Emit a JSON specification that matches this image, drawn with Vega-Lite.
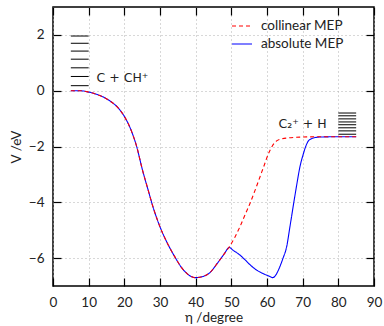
{
  "$schema": "https://vega.github.io/schema/vega-lite/v6.json",
  "width": 321,
  "height": 279,
  "autosize": "none",
  "padding": {"left": 53, "top": 7, "right": 10, "bottom": 40},
  "background": "white",
  "config": {
    "font": "Lato",
    "view": {"stroke": "black", "strokeWidth": 1.5},
    "axis": {
      "domain": false,
      "tickColor": "black",
      "tickWidth": 1.2,
      "tickSize": -8,
      "labelFont": "Lato",
      "labelFontSize": 13.5,
      "labelColor": "#222",
      "titleFont": "Lato",
      "titleFontSize": 13.5,
      "titleFontWeight": "normal",
      "titleColor": "#222",
      "gridColor": "#b0b0b0",
      "gridDash": [1, 3],
      "gridWidth": 1
    },
    "legend": {
      "labelFont": "Lato",
      "labelFontSize": 13.5,
      "labelColor": "#222"
    }
  },
  "datasets": {
    "curves": [
      {"eta": 5, "V": 0, "path": "absolute MEP"},
      {"eta": 7.5, "V": 0, "path": "absolute MEP"},
      {"eta": 10, "V": -0.05, "path": "absolute MEP"},
      {"eta": 12, "V": -0.12, "path": "absolute MEP"},
      {"eta": 14, "V": -0.22, "path": "absolute MEP"},
      {"eta": 16, "V": -0.37, "path": "absolute MEP"},
      {"eta": 18, "V": -0.58, "path": "absolute MEP"},
      {"eta": 20, "V": -0.92, "path": "absolute MEP"},
      {"eta": 22, "V": -1.45, "path": "absolute MEP"},
      {"eta": 23.5, "V": -2.02, "path": "absolute MEP"},
      {"eta": 25, "V": -2.8, "path": "absolute MEP"},
      {"eta": 26.7, "V": -3.57, "path": "absolute MEP"},
      {"eta": 28, "V": -4.15, "path": "absolute MEP"},
      {"eta": 30, "V": -4.88, "path": "absolute MEP"},
      {"eta": 32, "V": -5.45, "path": "absolute MEP"},
      {"eta": 34, "V": -5.92, "path": "absolute MEP"},
      {"eta": 36, "V": -6.33, "path": "absolute MEP"},
      {"eta": 38, "V": -6.6, "path": "absolute MEP"},
      {"eta": 40, "V": -6.7, "path": "absolute MEP"},
      {"eta": 42, "V": -6.66, "path": "absolute MEP"},
      {"eta": 44, "V": -6.52, "path": "absolute MEP"},
      {"eta": 46, "V": -6.2, "path": "absolute MEP"},
      {"eta": 48, "V": -5.85, "path": "absolute MEP"},
      {"eta": 49.4, "V": -5.62, "path": "absolute MEP"},
      {"eta": 50.5, "V": -5.72, "path": "absolute MEP"},
      {"eta": 52.4, "V": -5.89, "path": "absolute MEP"},
      {"eta": 54, "V": -6.08, "path": "absolute MEP"},
      {"eta": 55.5, "V": -6.27, "path": "absolute MEP"},
      {"eta": 57.1, "V": -6.43, "path": "absolute MEP"},
      {"eta": 59, "V": -6.56, "path": "absolute MEP"},
      {"eta": 60.5, "V": -6.64, "path": "absolute MEP"},
      {"eta": 61.6, "V": -6.7, "path": "absolute MEP"},
      {"eta": 62.5, "V": -6.6, "path": "absolute MEP"},
      {"eta": 63.6, "V": -6.31, "path": "absolute MEP"},
      {"eta": 64.5, "V": -6.0, "path": "absolute MEP"},
      {"eta": 65.5, "V": -5.6, "path": "absolute MEP"},
      {"eta": 66.4, "V": -4.9, "path": "absolute MEP"},
      {"eta": 67.4, "V": -4.1, "path": "absolute MEP"},
      {"eta": 68.3, "V": -3.4, "path": "absolute MEP"},
      {"eta": 69.2, "V": -2.75, "path": "absolute MEP"},
      {"eta": 70.2, "V": -2.26, "path": "absolute MEP"},
      {"eta": 71, "V": -1.95, "path": "absolute MEP"},
      {"eta": 71.6, "V": -1.8, "path": "absolute MEP"},
      {"eta": 72.5, "V": -1.72, "path": "absolute MEP"},
      {"eta": 73.5, "V": -1.68, "path": "absolute MEP"},
      {"eta": 75, "V": -1.66, "path": "absolute MEP"},
      {"eta": 80, "V": -1.65, "path": "absolute MEP"},
      {"eta": 85, "V": -1.65, "path": "absolute MEP"},
      {"eta": 5, "V": 0, "path": "collinear MEP"},
      {"eta": 7.5, "V": 0, "path": "collinear MEP"},
      {"eta": 10, "V": -0.05, "path": "collinear MEP"},
      {"eta": 12, "V": -0.12, "path": "collinear MEP"},
      {"eta": 14, "V": -0.22, "path": "collinear MEP"},
      {"eta": 16, "V": -0.37, "path": "collinear MEP"},
      {"eta": 18, "V": -0.58, "path": "collinear MEP"},
      {"eta": 20, "V": -0.92, "path": "collinear MEP"},
      {"eta": 22, "V": -1.45, "path": "collinear MEP"},
      {"eta": 23.5, "V": -2.02, "path": "collinear MEP"},
      {"eta": 25, "V": -2.8, "path": "collinear MEP"},
      {"eta": 26.7, "V": -3.57, "path": "collinear MEP"},
      {"eta": 28, "V": -4.15, "path": "collinear MEP"},
      {"eta": 30, "V": -4.88, "path": "collinear MEP"},
      {"eta": 32, "V": -5.45, "path": "collinear MEP"},
      {"eta": 34, "V": -5.92, "path": "collinear MEP"},
      {"eta": 36, "V": -6.33, "path": "collinear MEP"},
      {"eta": 38, "V": -6.6, "path": "collinear MEP"},
      {"eta": 40, "V": -6.7, "path": "collinear MEP"},
      {"eta": 42, "V": -6.66, "path": "collinear MEP"},
      {"eta": 44, "V": -6.52, "path": "collinear MEP"},
      {"eta": 46, "V": -6.2, "path": "collinear MEP"},
      {"eta": 48, "V": -5.85, "path": "collinear MEP"},
      {"eta": 49.4, "V": -5.6, "path": "collinear MEP"},
      {"eta": 51, "V": -5.25, "path": "collinear MEP"},
      {"eta": 52.4, "V": -4.88, "path": "collinear MEP"},
      {"eta": 54, "V": -4.4, "path": "collinear MEP"},
      {"eta": 55.2, "V": -4.05, "path": "collinear MEP"},
      {"eta": 57, "V": -3.45, "path": "collinear MEP"},
      {"eta": 58, "V": -3.1, "path": "collinear MEP"},
      {"eta": 59, "V": -2.75, "path": "collinear MEP"},
      {"eta": 60.4, "V": -2.26, "path": "collinear MEP"},
      {"eta": 61.5, "V": -1.98, "path": "collinear MEP"},
      {"eta": 62.7, "V": -1.8, "path": "collinear MEP"},
      {"eta": 64, "V": -1.73, "path": "collinear MEP"},
      {"eta": 66, "V": -1.69, "path": "collinear MEP"},
      {"eta": 68, "V": -1.67, "path": "collinear MEP"},
      {"eta": 70, "V": -1.66, "path": "collinear MEP"},
      {"eta": 75, "V": -1.65, "path": "collinear MEP"},
      {"eta": 80, "V": -1.65, "path": "collinear MEP"},
      {"eta": 85, "V": -1.65, "path": "collinear MEP"}
    ],
    "levels": [
      {"from": 5, "to": 10, "V": 0.18},
      {"from": 5, "to": 10, "V": 0.51},
      {"from": 5, "to": 10, "V": 0.82},
      {"from": 5, "to": 10, "V": 1.13},
      {"from": 5, "to": 10, "V": 1.42},
      {"from": 5, "to": 10, "V": 1.7},
      {"from": 5, "to": 10, "V": 1.96},
      {"from": 80, "to": 85, "V": -0.8},
      {"from": 80, "to": 85, "V": -0.9},
      {"from": 80, "to": 85, "V": -1.01},
      {"from": 80, "to": 85, "V": -1.12},
      {"from": 80, "to": 85, "V": -1.22},
      {"from": 80, "to": 85, "V": -1.33},
      {"from": 80, "to": 85, "V": -1.44},
      {"from": 80, "to": 85, "V": -1.56}
    ],
    "labels": [
      {"eta": 12.2, "V": 0.47, "text": "C + CH⁺"},
      {"eta": 63.2, "V": -1.18, "text": "C₂⁺ + H"}
    ]
  },
  "resolve": {"axis": {"x": "independent", "y": "independent"}},
  "layer": [
    {
      "data": {"name": "curves"},
      "mark": {"type": "line", "strokeWidth": 1.1, "interpolate": "monotone", "clip": true},
      "encoding": {
        "x": {
          "field": "eta", "type": "quantitative",
          "scale": {"domain": [0, 90], "nice": false, "zero": false},
          "axis": {"orient": "bottom", "values": [0, 10, 20, 30, 40, 50, 60, 70, 80, 90], "title": "η /degree", "grid": true, "labelPadding": 17, "titleY": 24, "labelFlush": false}
        },
        "y": {
          "field": "V", "type": "quantitative",
          "scale": {"domain": [-7, 3], "nice": false, "zero": false},
          "axis": {"orient": "left", "values": [-6, -4, -2, 0, 2], "title": "V /eV", "grid": true, "labelPadding": 17, "titleX": -30, "labelFlush": false}
        },
        "color": {
          "field": "path", "type": "nominal",
          "scale": {"domain": ["collinear MEP", "absolute MEP"], "range": ["#ff0000", "#0000ff"]},
          "legend": {"title": null, "orient": "none", "legendX": 178, "legendY": 8, "symbolType": "stroke", "symbolSize": 400, "symbolStrokeWidth": 1.2, "rowPadding": -6, "labelOffset": 8}
        },
        "strokeDash": {
          "field": "path", "type": "nominal",
          "scale": {"domain": ["collinear MEP", "absolute MEP"], "range": [[4, 3], [1, 0]]},
          "legend": {"title": null}
        }
      }
    },
    {
      "mark": {"type": "rule", "color": "black", "strokeDash": [1, 2.5], "strokeWidth": 1.2},
      "encoding": {"y": {"datum": 0, "type": "quantitative", "axis": null}}
    },
    {
      "data": {"name": "levels"},
      "mark": {"type": "rule", "color": "black", "strokeWidth": 1},
      "encoding": {
        "x": {"field": "from", "type": "quantitative", "axis": {"orient": "top", "values": [0, 10, 20, 30, 40, 50, 60, 70, 80, 90], "labels": false, "title": null, "grid": false}},
        "x2": {"field": "to"},
        "y": {"field": "V", "type": "quantitative", "axis": {"orient": "right", "values": [-6, -4, -2, 0, 2], "labels": false, "title": null, "grid": false}}
      }
    },
    {
      "data": {"name": "labels"},
      "mark": {"type": "text", "align": "left", "baseline": "middle", "fontSize": 12.5, "color": "#222", "font": "DejaVu Sans"},
      "encoding": {
        "x": {"field": "eta", "type": "quantitative", "axis": null},
        "y": {"field": "V", "type": "quantitative", "axis": null},
        "text": {"field": "text"}
      }
    }
  ]
}
